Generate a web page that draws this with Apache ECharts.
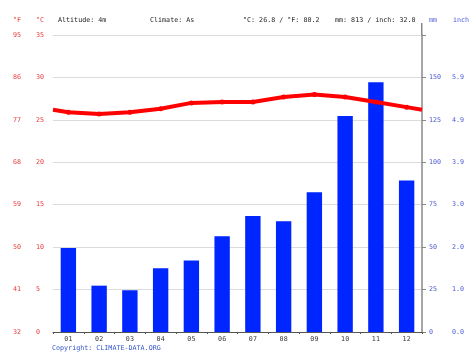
<!DOCTYPE html>
<html>
<head>
<meta charset="utf-8">
<script src="https://cdn.jsdelivr.net/npm/echarts@6/dist/echarts.min.js"></script>
<style>
html,body{margin:0;padding:0;background:#fff;}
#c{width:474px;height:355px;}
</style>
</head>
<body>
<div id="c"></div>
<script>
const months = ['01','02','03','04','05','06','07','08','09','10','11','12'];
const precipMm = [49.5, 27.3, 24.6, 37.5, 42.2, 56.4, 68.4, 65.2, 82.3, 127.2, 147.2, 89.2];
const tempC = [25.9, 25.7, 25.9, 26.3, 27.0, 27.1, 27.1, 27.7, 28.0, 27.7, 27.1, 26.5];
const tempEdgeC = [26.2, 26.2];
const fLabels = ['32','41','50','59','68','77','86','95'];
const cLabels = ['0','5','10','15','20','25','30','35'];
const mmLabels = ['0','25','50','75','100','125','150'];
const inchLabels = ['0.0','1.0','2.0','3.0','3.9','4.9','5.9'];
const headerTexts = ['Altitude: 4m','Climate: As','°C: 26.8 / °F: 80.2','mm: 813 / inch: 32.0'];
const copyright = 'Copyright: CLIMATE-DATA.ORG';

const FONT = 'DejaVu Sans Mono';
const FS = 6.7;
const RED = '#e83a3a';
const BLUE = '#4a5ad6';

const chart = echarts.init(document.getElementById('c'), null, {renderer:'canvas'});

const lineData = [];
lineData.push({value:[0, tempEdgeC[0]], symbol:'none'});
tempC.forEach((t,i)=>lineData.push({value:[i+0.5, t]}));
lineData.push({value:[months.length, tempEdgeC[1]], symbol:'none'});

function txt(x, y, s, color, align){
  return {type:'text', left:undefined, x:x, y:y, style:{text:s, fill:color, font: FS+'px "'+FONT+'"', textAlign:align||'left', textVerticalAlign:'middle'}, z:10};
}

chart.setOption({
  animation:false,
  backgroundColor:'#fff',
  grid:{left:53, right:52, top:35, bottom:23, containLabel:false},
  xAxis:[{
    type:'category', data:months, boundaryGap:true,
    axisLine:{show:true, lineStyle:{color:'#555', width:1}},
    axisTick:{show:true, alignWithLabel:false, length:2, lineStyle:{color:'#555'}},
    axisLabel:{color:'#333', fontFamily:FONT, fontSize:FS, margin:4},
    splitLine:{show:false}
  },{
    type:'value', min:0, max:months.length, show:false
  }],
  yAxis:[{
    type:'value', min:0, max:35, interval:5, position:'left',
    axisLine:{show:false}, axisTick:{show:false},
    axisLabel:{color:RED, fontFamily:FONT, fontSize:FS, align:'left', margin:17,
      formatter:(v,i)=>cLabels[i]},
    splitLine:{show:true, lineStyle:{color:'#dcdcdc', width:1}}
  },{
    type:'value', min:0, max:35, interval:5, position:'left',
    axisLine:{show:false}, axisTick:{show:false},
    axisLabel:{color:RED, fontFamily:FONT, fontSize:FS, align:'center', margin:36,
      formatter:(v,i)=>fLabels[i]},
    splitLine:{show:false}
  },{
    type:'value', min:0, max:175, interval:25, position:'right',
    axisLine:{show:true, lineStyle:{color:'#888', width:1.5}},
    axisTick:{show:true, inside:false, length:4, lineStyle:{color:'#888'}},
    axisLabel:{color:BLUE, fontFamily:FONT, fontSize:FS, align:'left', margin:7,
      formatter:(v,i)=> (i < mmLabels.length ? mmLabels[i] : '')},
    splitLine:{show:false}
  },{
    type:'value', min:0, max:175, interval:25, position:'right',
    axisLine:{show:false}, axisTick:{show:false},
    axisLabel:{color:BLUE, fontFamily:FONT, fontSize:FS, align:'left', margin:30,
      formatter:(v,i)=> (i < inchLabels.length ? inchLabels[i] : '')},
    splitLine:{show:false}
  }],
  series:[{
    type:'bar', data:precipMm, xAxisIndex:0, yAxisIndex:2, barWidth:'50%',
    itemStyle:{color:'#0026ff'}, z:2
  },{
    type:'line', data:lineData, xAxisIndex:1, yAxisIndex:0,
    symbol:'circle', symbolSize:5, smooth:false,
    lineStyle:{color:'#ff0000', width:4},
    itemStyle:{color:'#ff0000'}, z:5
  }],
  graphic:[
    {type:'line', shape:{x1:421.75, y1:23, x2:421.75, y2:35}, style:{stroke:'#888', lineWidth:1.5}},
    txt(17, 20, '°F', RED, 'center'),
    txt(40, 20, '°C', RED, 'center'),
    txt(58, 20, headerTexts[0], '#222'),
    txt(150, 20, headerTexts[1], '#222'),
    txt(243, 20, headerTexts[2], '#222'),
    txt(335, 20, headerTexts[3], '#222'),
    txt(429, 20, 'mm', BLUE),
    txt(453, 20, 'inch', BLUE),
    txt(52, 348, copyright, '#3355cc')
  ]
});
</script>
</body>
</html>
